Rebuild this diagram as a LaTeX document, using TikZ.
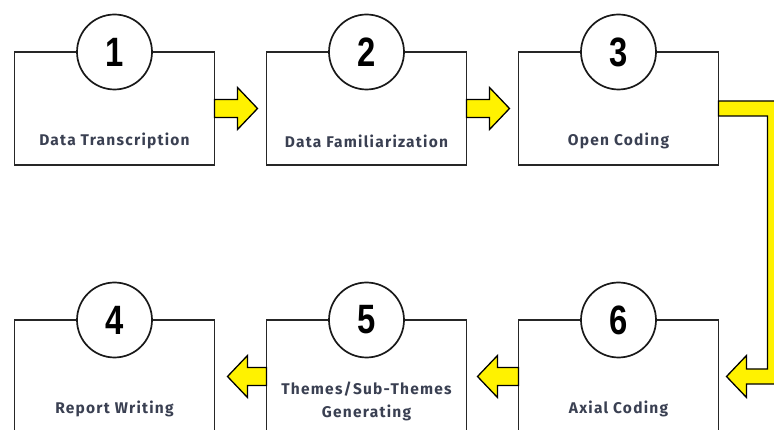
\documentclass[tikz,border=0pt]{standalone}
\usepackage{fontspec}
\setmainfont{Fira Sans}[LetterSpace=8]
\newfontfamily\numfont[FakeStretch=0.8]{Liberation Sans}
\usetikzlibrary{calc,positioning}
\definecolor{arrowyellow}{RGB}{255,242,0}
\definecolor{labelgray}{RGB}{58,64,82}
\begin{document}
\begin{tikzpicture}[x=1pt,y=-1pt,
	box/.style={draw=black!85,line width=1.7pt,minimum width=200pt,minimum height=113pt,inner sep=0pt,outer sep=0pt},
	num/.style={circle,draw=black!90,line width=1.7pt,fill=white,minimum size=75pt,inner sep=0pt,font=\numfont\bfseries\fontsize{41}{41}\selectfont},
	steplabel/.style={text=labelgray,font=\bfseries\fontsize{15.5}{23}\selectfont,align=center},
	arrowfill/.style={fill=arrowyellow,draw=black,line width=1.3pt,line join=miter},
	harrow/.style={arrowfill,to path={let \p1=(\tikztostart), \p2=(\tikztotarget), \n1={sign(\x2-\x1)*20} in
		(\x1,\y1+9pt) -- (\x2-\n1*1pt,\y1+9pt) -- (\x2-\n1*1pt,\y1+21pt) -- (\x2,\y1) -- (\x2-\n1*1pt,\y1-21pt) -- (\x2-\n1*1pt,\y1-9pt) -- (\x1,\y1-9pt) -- cycle}}]
	\useasboundingbox (0,0) rectangle (774,430);

	\node[box] (b1) at (114.5,108.5) {};
	\node[box,right=52pt of b1] (b2) {};
	\node[box,right=52pt of b2] (b3) {};
	\node[box,below=155pt of b1] (b4) {};
	\node[box,right=52pt of b4] (b5) {};
	\node[box,right=52pt of b5] (b6) {};

	\node[num] (n1) at (b1.north) {1};
	\node[num] (n2) at (b2.north) {2};
	\node[num] (n3) at (b3.north) {3};
	\node[num] (n4) at (b4.north) {4};
	\node[num] (n5) at (b5.north) {5};
	\node[num] (n6) at (b6.north) {6};

	\node[steplabel] (t1) at ($(b1.center)+(0,32.5)$) {Data Transcription};
	\node[steplabel] (t2) at ($(b2.center)+(0,32.5)$) {Data Familiarization};
	\node[steplabel] (t3) at ($(b3.center)+(0,32.5)$) {Open Coding};
	\node[steplabel] (t4) at ($(b4.center)+(0,32.5)$) {Report Writing};
	\node[steplabel] (t5) at ($(b5.center)+(0,25)$) {Themes/Sub-Themes\\Generating};
	\node[steplabel] (t6) at ($(b6.center)+(0,32.5)$) {Axial Coding};

	\draw[harrow] (b1.east) to ($(b2.west)+(-9,0)$);
	\draw[harrow] (b2.east) to ($(b3.west)+(-9,0)$);
	\draw[harrow] (b6.west) to ($(b5.east)+(11,0)$);
	\draw[harrow] (b5.west) to ($(b4.east)+(13,0)$);
	\draw[arrowfill] let \p1=(b3.east), \p2=(b6.east) in
		(\x1,\y1+7.5pt) -- (\x1+64pt,\y1+7.5pt) -- (\x1+64pt,\y2-7.5pt) -- (\x2+28pt,\y2-7.5pt) -- (\x2+28pt,\y2-21pt) -- (\x2+8pt,\y2)
		-- (\x2+28pt,\y2+21pt) -- (\x2+28pt,\y2+7.5pt) -- (\x1+49pt,\y2+7.5pt) -- (\x1+49pt,\y1-7.5pt) -- (\x1,\y1-7.5pt) -- cycle;
\end{tikzpicture}
\end{document}
